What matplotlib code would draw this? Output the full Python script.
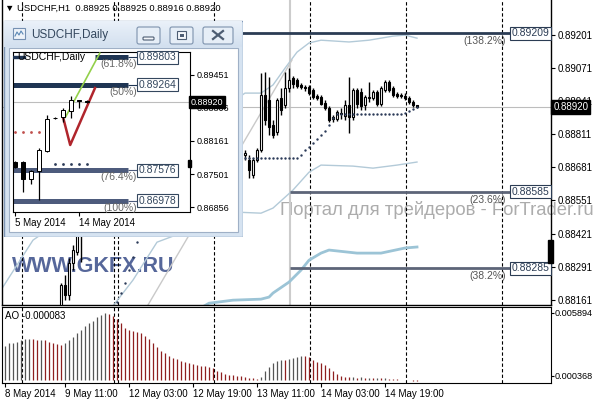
import numpy as np
import matplotlib.pyplot as plt
import matplotlib.transforms as mtransforms
from matplotlib.patches import Rectangle, FancyBboxPatch
from matplotlib.colors import LinearSegmentedColormap

W, H = 596, 400
plt.rcParams['font.family'] = ['Liberation Sans', 'DejaVu Sans']

# ---- USDCHF H1 candles (bar index, hourly from 8 May 19:00) ----
bar_idx = list(range(14, 20)) + list(range(60, 104))
opens = [0.88140, 0.88218, 0.88180, 0.88305, 0.88348, 0.88415,
         0.88729, 0.88710, 0.88651, 0.88710, 0.88749, 0.88965, 0.88946, 0.88847,
         0.88820, 0.88953, 0.88926, 0.88993, 0.89032, 0.89024, 0.89005, 0.88997,
         0.88997, 0.88985, 0.88961, 0.88957, 0.88934, 0.88914, 0.88871, 0.88871,
         0.88891, 0.88883, 0.88926, 0.88879, 0.88985, 0.88977, 0.88926, 0.88953,
         0.88953, 0.88977, 0.88930, 0.88985, 0.89016, 0.88993, 0.88969, 0.88965,
         0.88961, 0.88953, 0.88938, 0.88925]
highs = [0.88226, 0.88257, 0.88324, 0.88375, 0.88442, 0.88474,
         0.88749, 0.88729, 0.88718, 0.88757, 0.89052, 0.89056, 0.89036, 0.88867,
         0.88953, 0.88993, 0.89056, 0.89071, 0.89040, 0.89032, 0.89012, 0.89005,
         0.89005, 0.88993, 0.88969, 0.88965, 0.88946, 0.88922, 0.88887, 0.88906,
         0.88914, 0.88946, 0.89036, 0.88993, 0.88993, 0.88993, 0.88965, 0.89016,
         0.88985, 0.88985, 0.89001, 0.89024, 0.89024, 0.89001, 0.88977, 0.88973,
         0.88973, 0.88961, 0.88946, 0.88925]
lows = [0.88120, 0.88159, 0.88159, 0.88277, 0.88336, 0.88309,
        0.88710, 0.88639, 0.88639, 0.88702, 0.88741, 0.88847, 0.88808, 0.88796,
        0.88808, 0.88887, 0.88914, 0.88977, 0.88993, 0.88993, 0.88989, 0.88981,
        0.88965, 0.88950, 0.88946, 0.88926, 0.88906, 0.88859, 0.88859, 0.88863,
        0.88871, 0.88867, 0.88816, 0.88867, 0.88914, 0.88906, 0.88906, 0.88938,
        0.88946, 0.88922, 0.88922, 0.88977, 0.88977, 0.88957, 0.88953, 0.88953,
        0.88946, 0.88930, 0.88918, 0.88916]
closes = [0.88218, 0.88180, 0.88305, 0.88356, 0.88415, 0.88434,
          0.88737, 0.88670, 0.88710, 0.88749, 0.88965, 0.88867, 0.88839, 0.88808,
          0.88946, 0.88906, 0.88993, 0.89024, 0.89008, 0.89001, 0.88997, 0.88993,
          0.88973, 0.88957, 0.88953, 0.88930, 0.88914, 0.88867, 0.88879, 0.88898,
          0.88894, 0.88926, 0.88879, 0.88985, 0.88930, 0.88922, 0.88957, 0.88957,
          0.88977, 0.88930, 0.88993, 0.89016, 0.88985, 0.88965, 0.88961, 0.88961,
          0.88953, 0.88938, 0.88926, 0.88920]

# dotted indicator under price
sar_idx = list(range(28, 34)) + list(range(60, 104))
sar_val = [0.88151, 0.88187, 0.88226, 0.88277, 0.88328, 0.88387,
           0.88718, 0.88718, 0.88718, 0.88718, 0.88718, 0.88718, 0.88718,
           0.88718, 0.88718, 0.88718, 0.88718, 0.88718, 0.88718, 0.88718,
           0.88729, 0.88749, 0.88761, 0.88776, 0.88792, 0.88808, 0.88824,
           0.88847, 0.88875,
           0.88890, 0.88890, 0.88890, 0.88890, 0.88890, 0.88890, 0.88890,
           0.88890, 0.88890, 0.88890, 0.88890, 0.88890, 0.88890, 0.88890,
           0.88890, 0.88890, 0.88890,
           0.88894, 0.88902, 0.88910, 0.88918]

# envelope lines
band_up_idx = [-1, 7, 60, 64, 67, 70, 73, 76, 79, 86, 91, 97, 100, 103]
band_up_val = [0.88199, 0.88395, 0.88973, 0.88973, 0.89005, 0.89071, 0.89134,
               0.89170, 0.89181, 0.89174, 0.89181, 0.89197, 0.89201, 0.89189]
band_lo_idx = [26, 32, 38, 58, 64, 67, 72, 76, 79, 87, 92, 98, 103]
band_lo_val = [0.88116, 0.88238, 0.88387, 0.88505, 0.88501, 0.88521, 0.88592,
               0.88662, 0.88690, 0.88686, 0.88678, 0.88690, 0.88702]
band_th_idx = [48, 51, 57, 64, 66, 67, 71, 74, 76, 79, 81, 88, 94, 100, 103]
band_th_val = [0.88120, 0.88147, 0.88159, 0.88163, 0.88171, 0.88187, 0.88230,
               0.88277, 0.88316, 0.88344, 0.88356, 0.88344, 0.88344, 0.88364,
               0.88368]
trend_idx = [35, 71.75]
trend_val = [0.88120, 0.89103]

# fibonacci on H1
fib_levels = [0.89209, 0.88585, 0.88285]
fib_names = ['(138.2%)', '(23.6%)', '(38.2%)']
fib_start = [40, 71.25, 71.25]
fib_colors = ['#2b3c54', '#5d6578', '#5d6578']
fib_anchor = 71.25

price_ticks = [0.89201, 0.89071, 0.88941, 0.88811, 0.88681,
               0.88551, 0.88421, 0.88291, 0.88161]
last_price = 0.88920
day_seps = [4, 27, 28, 52, 76, 100, 124]
time_ticks = [0, 15, 31, 47, 63, 79, 95]
time_labels = ['8 May 2014', '9 May 11:00', '12 May 03:00', '12 May 19:00',
               '13 May 11:00', '14 May 03:00', '14 May 19:00']

# Awesome Oscillator, one value per H1 bar from index 0
ao_vals = np.array([
    2.99, 3.26, 3.26, 3.34, 3.52, 3.61, 3.61, 3.58, 3.55, 3.55,
    3.52, 3.34, 3.26, 3.17, 3.08, 3.26, 3.52, 3.78, 4.14, 4.40,
    4.75, 5.02, 5.19, 5.54, 5.72, 5.894, 5.81, 5.63, 5.37, 5.02,
    4.58, 4.40, 4.31, 4.22, 4.14, 3.87, 3.61, 3.26, 2.90, 2.55,
    2.38, 2.11, 1.94, 1.85, 1.67, 1.58, 1.50, 1.41, 1.32, 1.23,
    1.20, 1.14, 1.06, 0.79, 0.70, 0.53, 0.44, 0.40, 0.35, 0.32,
    0.26, 0.22, 0.18, 0.05, 0.26, 0.79, 1.14, 1.50, 1.67, 1.76,
    1.74, 1.85, 1.94, 2.02, 2.11, 2.09, 2.02, 1.76, 1.58, 1.50,
    1.32, 1.06, 0.79, 0.53, 0.35, 0.26, 0.24, 0.26, 0.22, 0.24,
    0.20, 0.22, 0.18, 0.20, 0.17, 0.18, 0.10, 0.08, 0.05, 0.03,
    0.02, -0.03, -0.06, -0.083]) * 1e-3

# ---- USDCHF Daily (inset) ----
d_open = [0.87741, 0.87741, 0.87407, 0.87564, 0.87957, 0.88606, 0.88625, 0.88743, 0.88950, 0.88940]
d_high = [0.87760, 0.87760, 0.87580, 0.88016, 0.88665, 0.88630, 0.88802, 0.89038, 0.88960, 0.88960]
d_low = [0.87620, 0.87151, 0.87308, 0.86994, 0.87940, 0.88590, 0.88527, 0.88606, 0.88802, 0.88900]
d_close = [0.87642, 0.87407, 0.87564, 0.87977, 0.88586, 0.88612, 0.88763, 0.88960, 0.88940, 0.88920]
d_ticks = [0.89451, 0.88806, 0.88161, 0.87501, 0.86856]
d_fib_levels = [0.89803, 0.89264, 0.87576, 0.86978]
d_fib_names = ['(61.8%)', '(50%)', '(76.4%)', '(100%)']
d_fib_start = [10.0, -0.25, -0.25, -0.25]
d_fib_colors = ['#1f3553', '#1f3553', '#4d5b7c', '#4d5b7c']
d_red_idx = [0, 1, 2, 3]
d_red_val = [0.88330] * 4
d_blue_idx = [5, 6, 7, 8, 9]
d_blue_val = [0.87701] * 5
zz_idx = [6.0, 6.9, 10.0]
zz_val = [0.88626, 0.88075, 0.89195]
gr_idx = [6.3, 10.6]
gr_val = [0.88620, 0.89880]


def px_rect(x0, y0, x1, y1):
    return [x0 / W, 1 - y1 / H, (x1 - x0) / W, (y1 - y0) / H]


def draw_candles(a, idx, o, h, l, c, width, lw):
    idx, o, h, l, c = map(np.asarray, (idx, o, h, l, c))
    a.vlines(idx, l, h, color='black', lw=lw, zorder=4)
    cols = np.where(c >= o, 'white', 'black')
    a.bar(idx, np.abs(c - o), width, np.minimum(o, c), color=cols,
          edgecolor='black', lw=lw * 0.8, zorder=5)


fig = plt.figure(figsize=(W / 100, H / 100), dpi=100)
fig.patch.set_facecolor('white')

# ---------------- main H1 panel ----------------
ax = fig.add_axes(px_rect(2, 0, 551, 305))
ax.set_xlim(-0.75, 136.5)
ax.set_ylim(0.88140, 0.89339)
ax.spines['top'].set_visible(False)
for s in ['left', 'right', 'bottom']:
    ax.spines[s].set_linewidth(1.0)
ax.yaxis.tick_right()
ax.set_yticks(price_ticks)
ax.set_yticklabels([f'{p:.5f}' for p in price_ticks])
ax.tick_params(axis='y', labelsize=7, length=3, width=0.8, pad=1.5)
ax.tick_params(axis='x', bottom=False, labelbottom=False)

ax.text(12 / W, 1 - 266 / H, 'WWW.GKFX.RU', transform=fig.transFigure,
        fontsize=15.5, fontweight='bold', color='#56679a', va='center',
        zorder=0.5, clip_on=False)
ax.text(280 / W, 1 - 210 / H, 'Портал для трейдеров - ForTrader.ru',
        transform=fig.transFigure, fontsize=13.3, color='#acacac',
        va='center', zorder=0.5, clip_on=False)

for d in day_seps:
    ax.axvline(d + 0.35, color='black', lw=0.8, ls=(0, (3, 2)), zorder=1)
ax.axvline(fib_anchor, color='#cccccc', lw=1.5, zorder=1)
ax.axhline(last_price, color='#bdbdbd', lw=0.8, zorder=1)

ax.plot(band_up_idx, band_up_val, color='#b3cad8', lw=1.0, zorder=2)
ax.plot(band_lo_idx, band_lo_val, color='#b3cad8', lw=1.0, zorder=2)
ax.plot(band_th_idx, band_th_val, color='#9cc4d6', lw=2.0, zorder=2)
ax.plot(trend_idx, trend_val, color='#c9c9c9', lw=1.0, zorder=2)

for lev, name, st, col in zip(fib_levels, fib_names, fib_start, fib_colors):
    ax.hlines(lev, st, 126.4, color=col, lw=2.0, zorder=3)
    ax.text(126.6, lev, f'{lev:.5f}', fontsize=7.5, color='#2b3c54',
            va='center', ha='left', zorder=6,
            bbox=dict(boxstyle='square,pad=0.15', fc='white', ec='#2b3c54', lw=0.8))
    ax.annotate(name, (125.2, lev), xytext=(0, -2), textcoords='offset points',
                ha='right', va='top', fontsize=7.5, color='#555555', zorder=6)

ax.scatter(sar_idx, sar_val, s=3, color='#2c3b58', zorder=6, lw=0)
draw_candles(ax, bar_idx, opens, highs, lows, closes, 0.62, 1.0)

yt = mtransforms.blended_transform_factory(ax.transAxes, ax.transData)
ax.text(1.004, last_price, f'{last_price:.5f}', transform=yt, fontsize=7,
        color='white', va='center', ha='left', zorder=10, clip_on=False,
        bbox=dict(boxstyle='square,pad=0.2', fc='black', ec='black'))
ax.add_patch(Rectangle((0.994, 0.88305), 0.01, 0.0009, transform=yt,
                       color='black', clip_on=False, zorder=8))

# ---------------- AO panel ----------------
ao = fig.add_axes(px_rect(2, 307, 551, 383))
ao.set_xlim(-0.75, 136.5)
ao.set_ylim(-0.26e-3, 6.42e-3)
ao_idx = np.arange(len(ao_vals))
rising = np.r_[True, np.diff(ao_vals) >= 0]
ao.vlines(ao_idx, 0, ao_vals, colors=np.where(rising, '#555555', '#8e1f1f'),
          lw=0.9, zorder=3)
for d in day_seps:
    ao.axvline(d + 0.35, color='black', lw=0.8, ls=(0, (3, 2)), zorder=1)
ao.yaxis.tick_right()
ao.set_yticks([0.005894, 0.000368])
ao.set_yticklabels(['0.005894', '0.000368'])
ao.tick_params(axis='y', labelsize=6.6, length=2, width=0.8, pad=0.8)
ao.set_xticks(time_ticks)
ao.set_xticklabels(time_labels, ha='left')
ao.tick_params(axis='x', labelsize=7, length=3, width=0.8, pad=1.5)

# ---------------- inset window (Daily) ----------------
win = fig.add_axes(px_rect(3, 20, 243, 237))
win.set_xlim(3, 243)
win.set_ylim(237, 20)
win.axis('off')
win.add_patch(Rectangle((3.5, 20.5), 239, 216, fc='#d6e3f1', ec='#7f97b6', lw=1))
grad = np.linspace(0, 1, 30).reshape(-1, 1)
win.imshow(grad, extent=(4, 242, 47, 21),
           cmap=LinearSegmentedColormap.from_list('tb', ['#eaf1f9', '#d3e0ef']),
           aspect='auto', zorder=1)
win.add_patch(Rectangle((9, 48), 229, 184, fc='white', ec='#9fb0c6', lw=0.8, zorder=2))
for bx in [(137, 160), (170, 193), (203, 233)]:
    win.add_patch(FancyBboxPatch((bx[0], 27), bx[1] - bx[0], 17,
                                 boxstyle='round,pad=0,rounding_size=2',
                                 fc='#e6eef7', ec='#7d92ad', lw=0.8, zorder=3))
win.add_patch(FancyBboxPatch((143, 37), 11, 3, boxstyle='round,pad=0,rounding_size=1',
                             fc='#f4f7fb', ec='#4d5d73', lw=0.8, zorder=4))
win.add_patch(Rectangle((177, 31), 9, 8, fc='#f4f7fb', ec='#4d5d73', lw=0.8, zorder=4))
win.add_patch(Rectangle((179.5, 33.5), 4, 3, fc='#4d5d73', ec='none', zorder=5))
win.plot([213, 223], [31, 39], color='#4d5d73', lw=1.6, zorder=4)
win.plot([213, 223], [39, 31], color='#4d5d73', lw=1.6, zorder=4)
win.add_patch(Rectangle((13, 28), 12, 11, fc='#eef3f9', ec='#7590b2', lw=0.8, zorder=3))
win.plot([15, 17, 19, 21, 23], [36, 32, 35, 31, 34], color='#5b88b5', lw=0.8, zorder=4)
win.text(31, 35, 'USDCHF,Daily', fontsize=8.5, color='#34475e', va='center', zorder=4)

ins = fig.add_axes(px_rect(13, 52, 190, 212))
ins.set_xlim(-0.25, 21.875)
ins.set_ylim(0.86758, 0.89903)
for s in ins.spines.values():
    s.set_linewidth(0.8)
ins.yaxis.tick_right()
ins.set_yticks(d_ticks)
ins.set_yticklabels([f'{p:.5f}' for p in d_ticks])
ins.tick_params(axis='y', labelsize=6.5, length=3, width=0.8, pad=1.5)
ins.set_xticks([0, 8])
ins.set_xticklabels(['5 May 2014', '14 May 2014'], ha='left')
ins.tick_params(axis='x', labelsize=7, length=3, width=0.8, pad=1)
ins.axhline(last_price, color='#bdbdbd', lw=0.8, zorder=1)

for lev, name, st, col in zip(d_fib_levels, d_fib_names, d_fib_start, d_fib_colors):
    ins.hlines(lev, st, 14.1, color=col, lw=3.6, zorder=2)
    ins.hlines(lev, 14.1, 15.4, color=col, lw=0.8, zorder=2)
    ins.text(15.5, lev, f'{lev:.5f}', fontsize=7.5, color='#34475e', va='center',
             ha='left', zorder=6, clip_on=False,
             bbox=dict(boxstyle='square,pad=0.15', fc='white', ec='#34475e', lw=0.8))
    ins.annotate(name, (15.25, lev), xytext=(0, -1.5), textcoords='offset points',
                 ha='right', va='top', fontsize=7.5, color='#666666', zorder=6)

ins.plot(zz_idx, zz_val, color='#b0252c', lw=1.8, zorder=3)
ins.plot(gr_idx, gr_val, color='#93d04a', lw=1.2, zorder=3)
ins.scatter(d_red_idx, d_red_val, s=4, color='#c0504d', lw=0, zorder=4)
ins.scatter(d_blue_idx, d_blue_val, s=4, color='#2c3b58', lw=0, zorder=4)
draw_candles(ins, np.arange(len(d_open)), d_open, d_high, d_low, d_close, 0.5, 0.9)

ins.text(0.3, 0.89803, 'USDCHF,Daily', fontsize=7.5, color='black', va='center',
         ha='left', zorder=7)
ins.add_patch(Rectangle((-0.25, 0.89780), 1.5, 0.00045, color='#1f3553', zorder=6))

yi = mtransforms.blended_transform_factory(ins.transAxes, ins.transData)
ins.text(1.006, last_price, f'{last_price:.5f}', transform=yi, fontsize=6.5,
         color='white', va='center', ha='left', zorder=10, clip_on=False,
         bbox=dict(boxstyle='square,pad=0.2', fc='black', ec='black'))
ins.add_patch(Rectangle((0.99, 0.87642), 0.018, 0.0014, transform=yi,
                        color='black', clip_on=False, zorder=8))

# header and AO caption
fig.text(5 / W, 1 - 8 / H, '\u25bc USDCHF,H1  0.88925 0.88925 0.88916 0.88920',
         fontsize=6.8, va='center', ha='left')
fig.text(5 / W, 1 - 316 / H, 'AO -0.000083', fontsize=7, va='center', ha='left')

fig.savefig('out.png', dpi=100)
